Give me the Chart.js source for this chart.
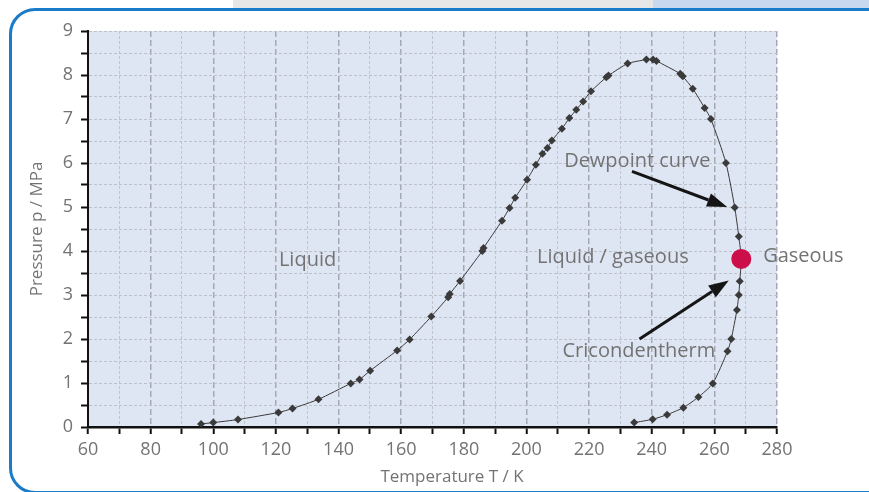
<!DOCTYPE html>
<html>
<head>
<meta charset="utf-8">
<script src="https://cdn.jsdelivr.net/npm/chart.js@4.4.0/dist/chart.umd.min.js"></script>
<style>
  html, body { margin: 0; padding: 0; background: #fff; }
  #wrap { position: relative; width: 869px; height: 492px; overflow: hidden; }
  .strip { position: absolute; top: 0; height: 10px; }
  #stripGray { left: 233px; width: 420px; background: #e7e7e7; }
  #stripBlue { left: 653px; width: 216px; background: #c8d8ee; }
  #card {
    position: absolute; left: 9px; top: 8px; width: 880px; height: 480px;
    border: 3px solid #1a7bc8; border-radius: 26px; background: #fff;
  }
  #chart { position: absolute; left: 0; top: 0; }
</style>
</head>
<body>
<div id="wrap">
  <div class="strip" id="stripGray"></div>
  <div class="strip" id="stripBlue"></div>
  <div id="card"></div>
  <canvas id="chart" width="869" height="492"></canvas>
</div>
<script>
// phase envelope (T in K, p in MPa), in curve order
const temperatures = [96.1, 100.0, 107.9, 120.8, 125.3, 133.6, 143.9, 146.7, 150.1, 158.7,
    162.7, 169.6, 175.0, 175.5, 178.8, 185.9, 186.3, 192.2, 194.6, 196.4,
    200.2, 203.0, 205.1, 206.7, 208.1, 211.3, 213.7, 215.9, 218.1, 220.6,
    225.5, 226.2, 232.3, 238.3, 240.4, 241.5, 249.1, 249.9, 253.1, 256.9,
    258.9, 263.7, 266.5, 267.8, 268.6, 268.1, 267.8, 267.2, 265.4, 264.2,
    259.5, 254.9, 250.1, 244.9, 240.3, 234.4];
const pressures = [0.07, 0.10, 0.17, 0.33, 0.42, 0.63, 0.99, 1.08, 1.28, 1.74,
    1.99, 2.51, 2.95, 3.02, 3.32, 4.00, 4.07, 4.69, 4.98, 5.21,
    5.62, 5.96, 6.21, 6.34, 6.51, 6.78, 7.02, 7.21, 7.40, 7.63,
    7.95, 7.99, 8.26, 8.35, 8.35, 8.32, 8.03, 7.97, 7.69, 7.25,
    7.00, 6.00, 4.99, 4.33, 3.82, 3.31, 3.00, 2.66, 2.00, 1.72,
    0.99, 0.68, 0.44, 0.28, 0.175, 0.10];

const cricondenthermT = 268.6;
const cricondenthermP = 3.82;

const xTicks = { min: 60, max: 280, step: 10, labelEvery: 20 };
const yTicks = { min: 0, max: 9, step: 0.5 };

const regionLabels = ["Liquid", "Liquid / gaseous", "Gaseous", "Dewpoint curve", "Cricondentherm"];
const regionLabelT = [130.1, 227.6, 288.4, 235.4, 235.9];
const regionLabelP = [3.80, 3.85, 3.87, 6.05, 1.71];

const arrowFromT = [233.7, 236.1];
const arrowFromP = [5.81, 2.00];
const arrowToT = [264.1, 264.6];
const arrowToP = [5.00, 3.33];

const FONT = "'Open Sans', 'DejaVu Sans', sans-serif";
const TEXT_COLOR = "#737373";

const plotBackground = {
    id: "plotBackground",
    beforeDraw(chart) {
        const { ctx, chartArea } = chart;
        ctx.save();
        ctx.fillStyle = "#dfe6f3";
        ctx.fillRect(chartArea.left, chartArea.top, chartArea.right - chartArea.left, chartArea.bottom - chartArea.top);
        ctx.restore();
    }
};

function drawArrow(ctx, x1, y1, x2, y2) {
    const ang = Math.atan2(y2 - y1, x2 - x1);
    const headLen = 20;
    const headHalf = 7;
    const bx = x2 - headLen * Math.cos(ang);
    const by = y2 - headLen * Math.sin(ang);
    ctx.beginPath();
    ctx.moveTo(x1, y1);
    ctx.lineTo(bx, by);
    ctx.stroke();
    ctx.beginPath();
    ctx.moveTo(x2, y2);
    ctx.lineTo(bx + headHalf * Math.sin(ang), by - headHalf * Math.cos(ang));
    ctx.lineTo(bx - headHalf * Math.sin(ang), by + headHalf * Math.cos(ang));
    ctx.closePath();
    ctx.fill();
}

const annotations = {
    id: "annotations",
    afterDraw(chart) {
        const { ctx, scales, chartArea } = chart;
        const x = scales.x, y = scales.y;
        ctx.save();

        ctx.strokeStyle = "#151515";
        ctx.fillStyle = "#151515";
        ctx.lineWidth = 3;
        for (let i = 0; i < arrowFromT.length; i++) {
            drawArrow(ctx,
                x.getPixelForValue(arrowFromT[i]), y.getPixelForValue(arrowFromP[i]),
                x.getPixelForValue(arrowToT[i]), y.getPixelForValue(arrowToP[i]));
        }

        ctx.fillStyle = TEXT_COLOR;
        ctx.font = "20px " + FONT;
        ctx.textAlign = "center";
        ctx.textBaseline = "middle";
        regionLabels.forEach((txt, i) => {
            ctx.fillText(txt, x.getPixelForValue(regionLabelT[i]), y.getPixelForValue(regionLabelP[i]));
        });

        // axis titles
        ctx.font = "17px " + FONT;
        ctx.fillText("Temperature T / K", 452, 477);
        ctx.translate(37, (chartArea.top + chartArea.bottom) / 2);
        ctx.rotate(-Math.PI / 2);
        ctx.fillText("Pressure p / MPa", 0, 0);
        ctx.restore();
    }
};

const envelope = temperatures.map((t, i) => ({ x: t, y: pressures[i] }));

new Chart(document.getElementById("chart"), {
    type: "scatter",
    data: {
        datasets: [
            {
                label: "Cricondentherm",
                data: [{ x: cricondenthermT, y: cricondenthermP }],
                pointStyle: "circle",
                pointRadius: 10,
                backgroundColor: "#cc0f4a",
                borderWidth: 0,
                order: -1
            },
            {
                label: "Phase envelope",
                data: envelope,
                showLine: true,
                tension: 0.2,
                borderColor: "#3a3a3a",
                borderWidth: 1,
                pointStyle: "rectRot",
                pointRadius: 4,
                pointBackgroundColor: "#3a3a3a",
                pointBorderWidth: 0,
                order: 0
            }
        ]
    },
    options: {
        responsive: false,
        animation: false,
        events: [],
        layout: { padding: { left: 0, right: 92, top: 31, bottom: 0 } },
        plugins: {
            legend: { display: false },
            tooltip: { enabled: false }
        },
        scales: {
            x: {
                type: "linear",
                min: xTicks.min,
                max: xTicks.max,
                afterFit(scale) { scale.height = 65; },
                ticks: {
                    stepSize: xTicks.step,
                    autoSkip: false,
                    maxRotation: 0,
                    padding: 5,
                    color: TEXT_COLOR,
                    font: { size: 18, family: FONT },
                    callback: v => (v % xTicks.labelEvery === 0 ? v : "")
                },
                grid: {
                    color: c => (c.tick && c.tick.value % xTicks.labelEvery === 0 ? "#a4a9b3" : "#bfc4cd"),
                    lineWidth: c => (c.tick && c.tick.value % xTicks.labelEvery === 0 ? 1.5 : 1),
                    tickColor: "#111",
                    tickWidth: 2,
                    tickLength: 7
                },
                border: {
                    color: "#111",
                    width: 2.5,
                    dash: c => (c.tick && c.tick.value % xTicks.labelEvery === 0 ? [6, 3] : [3, 2])
                }
            },
            y: {
                type: "linear",
                min: yTicks.min,
                max: yTicks.max,
                afterFit(scale) { scale.width = 88; },
                ticks: {
                    stepSize: yTicks.step,
                    autoSkip: false,
                    padding: 8,
                    color: TEXT_COLOR,
                    font: { size: 18, family: FONT },
                    callback: v => (Number.isInteger(v) ? v : "")
                },
                grid: {
                    color: "#bcc1ca",
                    lineWidth: 1,
                    tickColor: "#111",
                    tickWidth: 2,
                    tickLength: 7
                },
                border: {
                    color: "#111",
                    width: 2,
                    dash: [3, 2]
                }
            }
        }
    },
    plugins: [plotBackground, annotations]
});
</script>
</body>
</html>
